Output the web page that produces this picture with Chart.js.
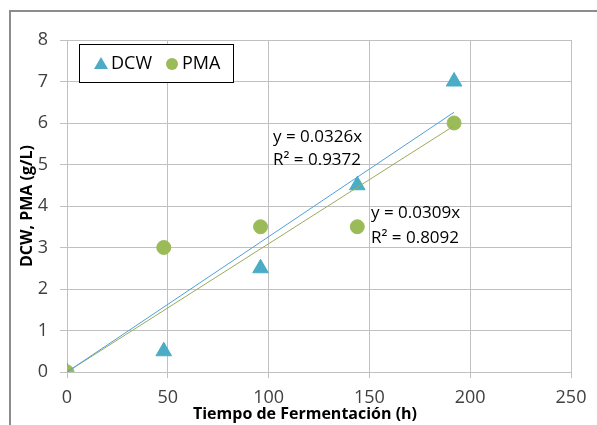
<!DOCTYPE html>
<html>
<head>
<meta charset="utf-8">
<script src="https://cdn.jsdelivr.net/npm/chart.js@4"></script>
<style>
  html, body { margin: 0; padding: 0; background: #ffffff; }
  #wrap { width: 597px; height: 425px; position: relative; }
</style>
</head>
<body>
<div id="wrap"><canvas id="chart"></canvas></div>
<script>
// Datos de fermentación
const horas = [0, 48, 96, 144, 192];
const dcw = [0, 0.5, 2.5, 4.5, 7];
const pma = [0, 3, 3.5, 3.5, 6];

// Líneas de tendencia (regresión por el origen)
const pendienteDcw = 0.0326;
const r2Dcw = 0.9372;
const pendientePma = 0.0309;
const r2Pma = 0.8092;
const tendenciaX = [0, 192];

const xTicks = [0, 50, 100, 150, 200, 250];
const yTicks = [0, 1, 2, 3, 4, 5, 6, 7, 8];

const colorDcw = "#4bacc6";
const colorPma = "#9bbb59";
const lineaDcw = "#4f9fdb";
const lineaPma = "#9aab5a";
const fuente = "'Open Sans', 'Liberation Sans', sans-serif";

function puntos(xs, ys) {
    return xs.map((x, i) => ({ x: x, y: ys[i] }));
}

// Marco exterior, títulos de ejes, leyenda y ecuaciones
const decoracion = {
    id: "decoracion",
    afterDraw(chart) {
        const ctx = chart.ctx;
        ctx.save();

        // marco: sólo borde superior e izquierdo quedan dentro del lienzo
        ctx.strokeStyle = "#8c8c8c";
        ctx.lineWidth = 2;
        ctx.beginPath();
        ctx.moveTo(10, 425);
        ctx.lineTo(10, 11);
        ctx.lineTo(597, 11);
        ctx.stroke();

        ctx.fillStyle = "#000000";
        ctx.font = "bold 16px " + fuente;
        ctx.textAlign = "center";
        ctx.textBaseline = "middle";
        ctx.fillText("Tiempo de Fermentación (h)", 305, 414);
        ctx.save();
        ctx.translate(27, 206);
        ctx.rotate(-Math.PI / 2);
        ctx.fillText("DCW, PMA (g/L)", 0, 0);
        ctx.restore();

        // leyenda
        ctx.fillStyle = "#ffffff";
        ctx.fillRect(79, 44, 154, 38);
        ctx.strokeStyle = "#000000";
        ctx.lineWidth = 1;
        ctx.strokeRect(79.5, 44.5, 154, 38);
        ctx.fillStyle = colorDcw;
        ctx.beginPath();
        ctx.moveTo(101, 57);
        ctx.lineTo(108, 69);
        ctx.lineTo(94, 69);
        ctx.closePath();
        ctx.fill();
        ctx.fillStyle = colorPma;
        ctx.beginPath();
        ctx.arc(172, 64, 6, 0, Math.PI * 2);
        ctx.fill();
        ctx.fillStyle = "#000000";
        ctx.font = "18px " + fuente;
        ctx.textAlign = "left";
        ctx.fillText("DCW", 111, 64);
        ctx.fillText("PMA", 182, 64);

        // ecuaciones de tendencia
        ctx.font = "17px " + fuente;
        ctx.fillText("y = " + pendienteDcw + "x", 273, 137);
        ctx.fillText("R² = " + r2Dcw, 273, 160);
        ctx.fillText("y = " + pendientePma + "x", 371, 213);
        ctx.fillText("R² = " + r2Pma, 371, 238);
        ctx.restore();
    }
};

new Chart(document.getElementById("chart"), {
    type: "scatter",
    data: {
        datasets: [
            {
                label: "DCW",
                data: puntos(horas, dcw),
                backgroundColor: colorDcw,
                borderColor: colorDcw,
                pointStyle: "triangle",
                pointRadius: 9,
                order: 3
            },
            {
                label: "PMA",
                data: puntos(horas, pma),
                backgroundColor: colorPma,
                borderColor: colorPma,
                pointStyle: "circle",
                pointRadius: 7,
                order: 2
            },
            {
                label: "Tendencia DCW",
                data: tendenciaX.map(x => ({ x: x, y: pendienteDcw * x })),
                showLine: true,
                borderColor: lineaDcw,
                borderWidth: 1,
                pointRadius: 0,
                order: 1
            },
            {
                label: "Tendencia PMA",
                data: tendenciaX.map(x => ({ x: x, y: pendientePma * x })),
                showLine: true,
                borderColor: lineaPma,
                borderWidth: 1,
                pointRadius: 0,
                order: 1
            }
        ]
    },
    options: {
        responsive: true,
        maintainAspectRatio: false,
        animation: false,
        layout: { padding: { left: 0, top: 40, right: 26, bottom: 0 } },
        plugins: {
            legend: { display: false },
            tooltip: { enabled: false }
        },
        scales: {
            x: {
                type: "linear",
                min: 0,
                max: 250,
                afterBuildTicks: s => { s.ticks = xTicks.map(v => ({ value: v })); },
                afterFit: s => { s.height = 53; },
                grid: { color: "#c0c0c0", lineWidth: 1, tickLength: 6 },
                border: { display: false },
                ticks: { color: "#404040", font: { family: fuente, size: 18 }, padding: 9 }
            },
            y: {
                min: 0,
                max: 8,
                afterBuildTicks: s => { s.ticks = yTicks.map(v => ({ value: v })); },
                afterFit: s => { s.width = 67; },
                grid: { color: "#c0c0c0", lineWidth: 1, tickLength: 7 },
                border: { display: false },
                ticks: { color: "#404040", font: { family: fuente, size: 18 }, padding: 12 }
            }
        }
    },
    plugins: [decoracion]
});
</script>
</body>
</html>
